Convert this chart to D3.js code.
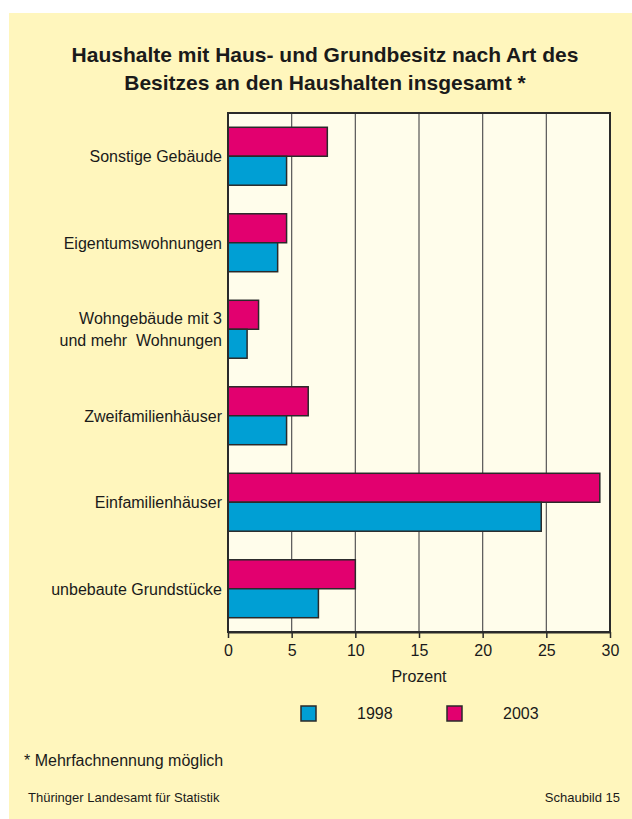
<!DOCTYPE html>
<html><head><meta charset="utf-8">
<script src="https://cdn.jsdelivr.net/npm/d3@7"></script>
<style>body{margin:0;background:#fff;}svg{display:block;font-family:"Liberation Sans",Arial,sans-serif;}</style>
</head><body>
<svg id="c" width="632" height="819"></svg>
<script>
const categories = ["Sonstige Gebäude", "Eigentumswohnungen", "Wohngebäude mit 3|und mehr  Wohnungen", "Zweifamilienhäuser", "Einfamilienhäuser", "unbebaute Grundstücke"];
const values2003 = [7.8, 4.6, 2.4, 6.3, 29.2, 10.0];
const values1998 = [4.6, 3.9, 1.5, 4.6, 24.6, 7.1];
const xTicks = [0, 5, 10, 15, 20, 25, 30];
const seriesNames = ["1998", "2003"];
const colors = {"1998": "#009fd4", "2003": "#e2006f"};

const svg = d3.select("#c");
svg.append("rect").attr("x", 9).attr("y", 13).attr("width", 623).attr("height", 806).attr("fill", "#fff6bd");

svg.append("text").attr("x", 325).attr("y", 62).attr("text-anchor", "middle").attr("font-size", 21).attr("font-weight", "bold").attr("fill", "#1a1a1a").text("Haushalte mit Haus- und Grundbesitz nach Art des");
svg.append("text").attr("x", 325).attr("y", 90).attr("text-anchor", "middle").attr("font-size", 21).attr("font-weight", "bold").attr("fill", "#1a1a1a").text("Besitzes an den Haushalten insgesamt *");

const L = 228, R = 610, T = 113, B = 632;
const x = d3.scaleLinear().domain([0, 30]).range([L, R]);
const y = d3.scaleBand().domain(categories).range([T, B]).paddingInner(0.33).paddingOuter(0.165);

svg.append("rect").attr("x", L).attr("y", T).attr("width", R - L).attr("height", B - T).attr("fill", "#fffdeb");

// gridlines
svg.append("g").selectAll("line").data(xTicks.slice(1, -1)).join("line")
  .attr("x1", d => x(d)).attr("x2", d => x(d)).attr("y1", T).attr("y2", B)
  .attr("stroke", "#555").attr("stroke-width", 1.2);

const sub = d3.scaleBand().domain(["2003", "1998"]).range([0, y.bandwidth()]);
const g = svg.append("g");
categories.forEach((c, i) => {
  [["2003", values2003[i]], ["1998", values1998[i]]].forEach(([s, v]) => {
    g.append("rect").attr("x", x(0)).attr("y", y(c) + sub(s)).attr("width", x(v) - x(0)).attr("height", sub.bandwidth())
      .attr("fill", colors[s]).attr("stroke", "#2a2a2a").attr("stroke-width", 1.5);
  });
});

// border
svg.append("rect").attr("x", L).attr("y", T).attr("width", R - L).attr("height", B - T).attr("fill", "none").attr("stroke", "#2a2a2a").attr("stroke-width", 2);

// x axis
const xa = svg.append("g").attr("transform", `translate(0,${B})`).call(d3.axisBottom(x).tickValues(xTicks).tickSize(6).tickSizeOuter(0));
xa.select(".domain").attr("stroke", "#2a2a2a").attr("stroke-width", 2);
xa.selectAll(".tick line").attr("stroke", "#2a2a2a").attr("stroke-width", 1.5);
xa.selectAll(".tick text").attr("font-size", 16).attr("font-family", "Liberation Sans, Arial, sans-serif").attr("fill", "#1a1a1a").attr("dy", "0.95em");

svg.append("text").attr("x", x(15)).attr("y", 682).attr("text-anchor", "middle").attr("font-size", 16).attr("fill", "#1a1a1a").text("Prozent");

// category labels
categories.forEach(c => {
  const lines = c.split("|");
  const cy = y(c) + y.bandwidth() / 2;
  const t = svg.append("text").attr("text-anchor", "end").attr("font-size", 16).attr("fill", "#1a1a1a").attr("xml:space", "preserve");
  lines.forEach((ln, k) => {
    t.append("tspan").attr("x", 222).attr("y", cy + 6 + (k - (lines.length - 1) / 2) * 22).text(ln);
  });
});

// legend
const legX = {"1998": [301, 357], "2003": [447, 503]};
seriesNames.forEach(s => {
  svg.append("rect").attr("x", legX[s][0]).attr("y", 706).attr("width", 15).attr("height", 15).attr("fill", colors[s]).attr("stroke", "#2a2a2a").attr("stroke-width", 1.5);
  svg.append("text").attr("x", legX[s][1]).attr("y", 719).attr("font-size", 16).attr("fill", "#1a1a1a").text(s);
});

svg.append("text").attr("x", 24).attr("y", 766).attr("font-size", 16).attr("fill", "#1a1a1a").text("* Mehrfachnennung möglich");
svg.append("text").attr("x", 28).attr("y", 802).attr("font-size", 13).attr("fill", "#1a1a1a").text("Thüringer Landesamt für Statistik");
svg.append("text").attr("x", 620).attr("y", 802).attr("text-anchor", "end").attr("font-size", 13).attr("fill", "#1a1a1a").text("Schaubild 15");
</script>
</body></html>
